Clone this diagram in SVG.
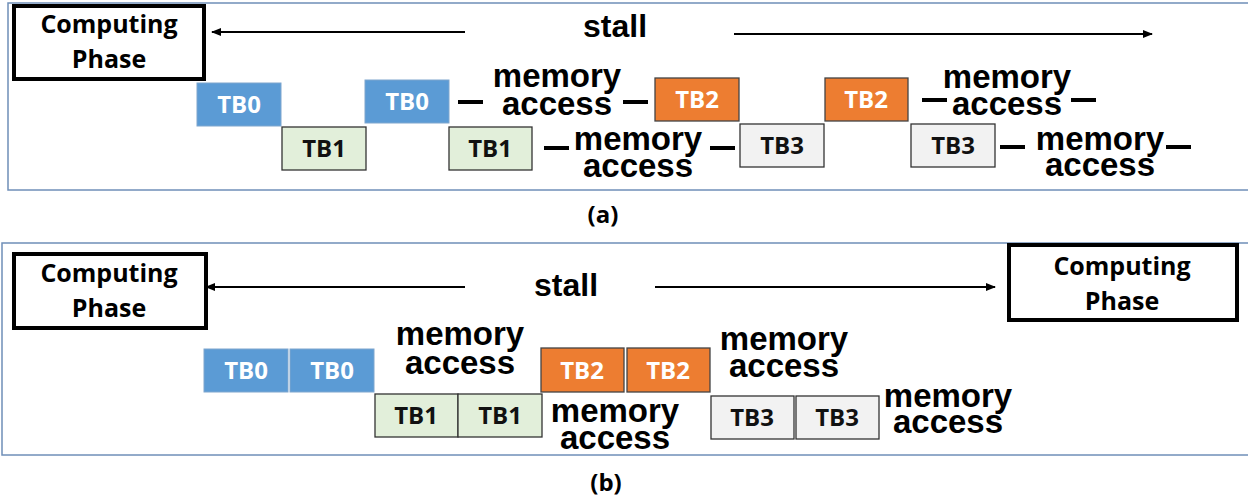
<svg xmlns="http://www.w3.org/2000/svg" width="1248" height="499" viewBox="0 0 1248 499">
<style>
.panel{fill:#fff;stroke:#6F8FB8;stroke-width:1.5}
.cp{fill:#fff;stroke:#000;stroke-width:4}
.cpt{font-family:"Open Sans",sans-serif;font-weight:700;font-size:25px;fill:#000;text-anchor:middle}
.tb{font-family:"Open Sans",sans-serif;font-weight:700;font-size:24px;text-anchor:middle}
.w{fill:#fff}
.k{fill:#111}
.b0{fill:#5B9BD5;stroke:#7FA6CE;stroke-width:1}
.b1{fill:#E2EFDA;stroke:#333;stroke-width:1.3}
.b2{fill:#ED7D31;stroke:#444;stroke-width:1.3}
.b3{fill:#F2F2F2;stroke:#333;stroke-width:1.3}
.big{font-family:"Liberation Sans",Arial,sans-serif;font-weight:700;font-size:33px;fill:#000;text-anchor:middle}
.dash{stroke:#000;stroke-width:4}
.arr{stroke:#000;stroke-width:2;fill:none}
.cap{font-family:"Open Sans",sans-serif;font-weight:700;font-size:24px;fill:#000;text-anchor:middle}
</style>
<defs>
<marker id="ah" viewBox="0 0 10 10" refX="9" refY="5" markerWidth="5" markerHeight="5" orient="auto" markerUnits="strokeWidth">
<path d="M0,1 L10,5 L0,9 z" fill="#000"/>
</marker>
</defs>
<rect width="1248" height="499" fill="#fff"/>
<g id="panel-a">
<rect class="panel" x="8" y="3" width="1250" height="187"/>
</g>
<g id="cp-a">
<rect class="cp" x="14" y="6" width="190" height="73"/>
<text class="cpt" x="109" y="33">Computing</text>
<text class="cpt" x="109" y="68">Phase</text>
</g>
<g id="stall-a"><text class="big" x="615" y="37" style="font-size:32px">stall</text></g>
<g id="a-tb0-1"><rect class="b0" x="197" y="83" width="84" height="43"/><text class="tb w" x="239" y="113">TB0</text></g>
<g id="a-tb1-1"><rect class="b1" x="282" y="127" width="84" height="43"/><text class="tb k" x="324" y="157">TB1</text></g>
<g id="a-tb0-2"><rect class="b0" x="365" y="80" width="84" height="43"/><text class="tb w" x="407" y="110">TB0</text></g>
<g id="a-tb1-2"><rect class="b1" x="449" y="127" width="83" height="43"/><text class="tb k" x="490" y="157">TB1</text></g>
<g id="a-tb2-1"><rect class="b2" x="655" y="78" width="84" height="43"/><text class="tb w" x="697" y="108">TB2</text></g>
<g id="a-tb3-1"><rect class="b3" x="740" y="124" width="84" height="43"/><text class="tb k" x="782" y="154">TB3</text></g>
<g id="a-tb2-2"><rect class="b2" x="825" y="78" width="83" height="43"/><text class="tb w" x="866" y="108">TB2</text></g>
<g id="a-tb3-2"><rect class="b3" x="911" y="124" width="84" height="43"/><text class="tb k" x="953" y="154">TB3</text></g>
<g id="a-mem1"><text class="big" x="557" y="87">memory</text><text class="big" x="557" y="115">access</text></g>
<g id="a-mem2"><text class="big" x="638" y="150">memory</text><text class="big" x="638" y="177">access</text></g>
<g id="a-mem3"><text class="big" x="1007" y="88">memory</text><text class="big" x="1007" y="115">access</text></g>
<g id="a-mem4"><text class="big" x="1100" y="150">memory</text><text class="big" x="1100" y="176">access</text></g>
<g id="cap-a"><text class="cap" x="603" y="223">(a)</text></g>
<g id="panel-b">
<rect class="panel" x="2" y="243" width="1256" height="212"/>
</g>
<g id="cp-b1">
<rect class="cp" x="14" y="254" width="192" height="74"/>
<text class="cpt" x="109" y="282">Computing</text>
<text class="cpt" x="109" y="317">Phase</text>
</g>
<g id="cp-b2">
<rect class="cp" x="1009" y="245" width="228" height="75"/>
<text class="cpt" x="1122" y="275">Computing</text>
<text class="cpt" x="1122" y="310">Phase</text>
</g>
<g id="stall-b"><text class="big" x="566" y="296" style="font-size:32px">stall</text></g>
<g id="b-tb0-1"><rect class="b0" x="204" y="349" width="84" height="43"/><text class="tb w" x="246" y="379">TB0</text></g>
<g id="b-tb0-2"><rect class="b0" x="290" y="349" width="84" height="43"/><text class="tb w" x="332" y="379">TB0</text></g>
<g id="b-tb1-1"><rect class="b1" x="375" y="394" width="83" height="43"/><text class="tb k" x="416" y="424">TB1</text></g>
<g id="b-tb1-2"><rect class="b1" x="458" y="394" width="84" height="43"/><text class="tb k" x="500" y="424">TB1</text></g>
<g id="b-tb2-1"><rect class="b2" x="541" y="348" width="83" height="44"/><text class="tb w" x="582" y="379">TB2</text></g>
<g id="b-tb2-2"><rect class="b2" x="627" y="348" width="83" height="44"/><text class="tb w" x="668" y="379">TB2</text></g>
<g id="b-tb3-1"><rect class="b3" x="711" y="396" width="83" height="43"/><text class="tb k" x="752" y="426">TB3</text></g>
<g id="b-tb3-2"><rect class="b3" x="796" y="396" width="83" height="43"/><text class="tb k" x="837" y="426">TB3</text></g>
<g id="b-mem1"><text class="big" x="460" y="345">memory</text><text class="big" x="460" y="374">access</text></g>
<g id="b-mem2"><text class="big" x="615" y="422">memory</text><text class="big" x="615" y="449">access</text></g>
<g id="b-mem3"><text class="big" x="784" y="350">memory</text><text class="big" x="784" y="377">access</text></g>
<g id="b-mem4"><text class="big" x="948" y="407">memory</text><text class="big" x="948" y="433">access</text></g>
<g id="cap-b"><text class="cap" x="606" y="491">(b)</text></g>
<g id="connectors">
<line class="arr" x1="465" y1="32" x2="212" y2="32" marker-end="url(#ah)"/>
<line class="arr" x1="734" y1="34" x2="1152" y2="34" marker-end="url(#ah)"/>
<line class="arr" x1="465" y1="287" x2="206" y2="287" marker-end="url(#ah)"/>
<line class="arr" x1="655" y1="287" x2="995" y2="287" marker-end="url(#ah)"/>
<line class="dash" x1="458" y1="102" x2="483" y2="102"/>
<line class="dash" x1="623" y1="102" x2="648" y2="102"/>
<line class="dash" x1="544" y1="148" x2="569" y2="148"/>
<line class="dash" x1="710" y1="148" x2="735" y2="148"/>
<line class="dash" x1="922" y1="100" x2="947" y2="100"/>
<line class="dash" x1="1071" y1="100" x2="1096" y2="100"/>
<line class="dash" x1="1000" y1="147" x2="1025" y2="147"/>
<line class="dash" x1="1166" y1="147" x2="1191" y2="147"/>
</g>
</svg>
